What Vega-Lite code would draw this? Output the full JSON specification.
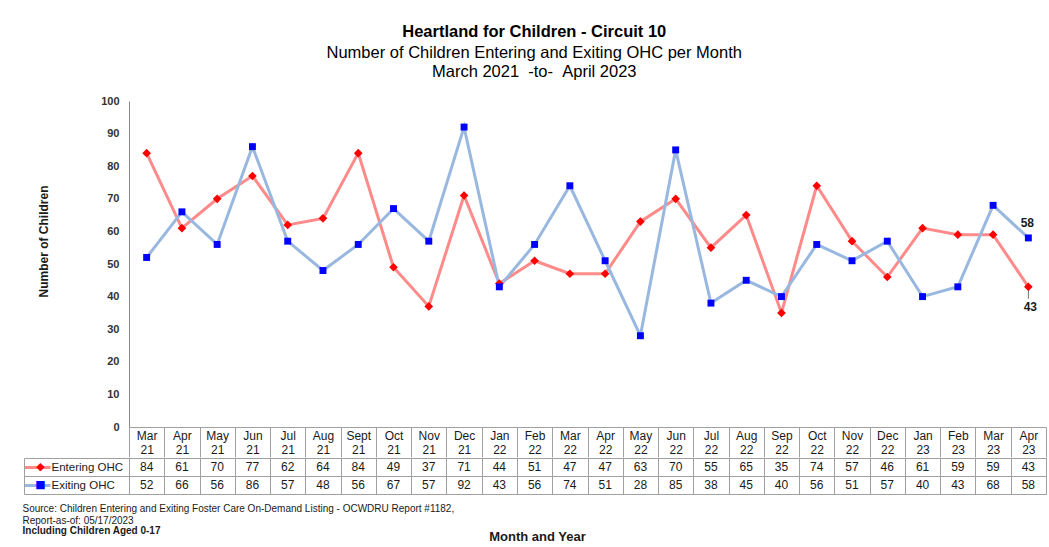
{
  "$schema": "https://vega.github.io/schema/vega-lite/v6.json",
  "background": "white",
  "padding": {"left": 22, "top": 24, "right": 2, "bottom": 2},
  "config": {"font": "Liberation Sans", "view": {"stroke": null}},
  "title": {
    "text": "Heartland for Children - Circuit 10",
    "subtitle": ["Number of Children Entering and Exiting OHC per Month", "March 2021 \u00a0-to- \u00a0April 2023"],
    "anchor": "middle",
    "frame": "bounds",
    "fontSize": 16.5,
    "fontWeight": "bold",
    "color": "#000000",
    "subtitleFontSize": 16.5,
    "subtitleColor": "#000000",
    "subtitleLineHeight": 19.5,
    "subtitlePadding": 4,
    "offset": 14.5
  },
  "datasets": {
    "ohc": [
      {"month": "Mar 21", "series": "Entering OHC", "value": 84},
      {"month": "Apr 21", "series": "Entering OHC", "value": 61},
      {"month": "May 21", "series": "Entering OHC", "value": 70},
      {"month": "Jun 21", "series": "Entering OHC", "value": 77},
      {"month": "Jul 21", "series": "Entering OHC", "value": 62},
      {"month": "Aug 21", "series": "Entering OHC", "value": 64},
      {"month": "Sept 21", "series": "Entering OHC", "value": 84},
      {"month": "Oct 21", "series": "Entering OHC", "value": 49},
      {"month": "Nov 21", "series": "Entering OHC", "value": 37},
      {"month": "Dec 21", "series": "Entering OHC", "value": 71},
      {"month": "Jan 22", "series": "Entering OHC", "value": 44},
      {"month": "Feb 22", "series": "Entering OHC", "value": 51},
      {"month": "Mar 22", "series": "Entering OHC", "value": 47},
      {"month": "Apr 22", "series": "Entering OHC", "value": 47},
      {"month": "May 22", "series": "Entering OHC", "value": 63},
      {"month": "Jun 22", "series": "Entering OHC", "value": 70},
      {"month": "Jul 22", "series": "Entering OHC", "value": 55},
      {"month": "Aug 22", "series": "Entering OHC", "value": 65},
      {"month": "Sep 22", "series": "Entering OHC", "value": 35},
      {"month": "Oct 22", "series": "Entering OHC", "value": 74},
      {"month": "Nov 22", "series": "Entering OHC", "value": 57},
      {"month": "Dec 22", "series": "Entering OHC", "value": 46},
      {"month": "Jan 23", "series": "Entering OHC", "value": 61},
      {"month": "Feb 23", "series": "Entering OHC", "value": 59},
      {"month": "Mar 23", "series": "Entering OHC", "value": 59},
      {"month": "Apr 23", "series": "Entering OHC", "value": 43},
      {"month": "Mar 21", "series": "Exiting OHC", "value": 52},
      {"month": "Apr 21", "series": "Exiting OHC", "value": 66},
      {"month": "May 21", "series": "Exiting OHC", "value": 56},
      {"month": "Jun 21", "series": "Exiting OHC", "value": 86},
      {"month": "Jul 21", "series": "Exiting OHC", "value": 57},
      {"month": "Aug 21", "series": "Exiting OHC", "value": 48},
      {"month": "Sept 21", "series": "Exiting OHC", "value": 56},
      {"month": "Oct 21", "series": "Exiting OHC", "value": 67},
      {"month": "Nov 21", "series": "Exiting OHC", "value": 57},
      {"month": "Dec 21", "series": "Exiting OHC", "value": 92},
      {"month": "Jan 22", "series": "Exiting OHC", "value": 43},
      {"month": "Feb 22", "series": "Exiting OHC", "value": 56},
      {"month": "Mar 22", "series": "Exiting OHC", "value": 74},
      {"month": "Apr 22", "series": "Exiting OHC", "value": 51},
      {"month": "May 22", "series": "Exiting OHC", "value": 28},
      {"month": "Jun 22", "series": "Exiting OHC", "value": 85},
      {"month": "Jul 22", "series": "Exiting OHC", "value": 38},
      {"month": "Aug 22", "series": "Exiting OHC", "value": 45},
      {"month": "Sep 22", "series": "Exiting OHC", "value": 40},
      {"month": "Oct 22", "series": "Exiting OHC", "value": 56},
      {"month": "Nov 22", "series": "Exiting OHC", "value": 51},
      {"month": "Dec 22", "series": "Exiting OHC", "value": 57},
      {"month": "Jan 23", "series": "Exiting OHC", "value": 40},
      {"month": "Feb 23", "series": "Exiting OHC", "value": 43},
      {"month": "Mar 23", "series": "Exiting OHC", "value": 68},
      {"month": "Apr 23", "series": "Exiting OHC", "value": 58}
    ]
  },
  "spacing": -7,
  "vconcat": [
    {
      "width": 917,
      "height": 326,
      "data": {"name": "ohc"},
      "encoding": {
        "x": {
          "field": "month", "type": "nominal", "bandPosition": 0.5,
          "sort": ["Mar 21","Apr 21","May 21","Jun 21","Jul 21","Aug 21","Sept 21","Oct 21","Nov 21","Dec 21","Jan 22","Feb 22","Mar 22","Apr 22","May 22","Jun 22","Jul 22","Aug 22","Sep 22","Oct 22","Nov 22","Dec 22","Jan 23","Feb 23","Mar 23","Apr 23"],
          "scale": {"type": "band", "paddingInner": 0, "paddingOuter": 0},
          "axis": {
            "title": null, "orient": "bottom", "labelAngle": 0,
            "labelExpr": "split(datum.label, ' ')",
            "labelFontSize": 12, "labelColor": "#1a1a1a", "labelLineHeight": 14,
            "labelBaseline": "top", "labelPadding": -27,
            "tickBand": "extent", "tickSize": 30, "tickColor": "#a0a0a0",
            "domainColor": "#a0a0a0", "labelOverlap": false, "labelBound": false
          }
        },
        "y": {
          "field": "value", "type": "quantitative",
          "scale": {"domain": [0, 100]},
          "axis": {
            "title": "Number of Children", "values": [0,10,20,30,40,50,60,70,80,90,100],
            "ticks": false, "grid": false, "labelFontWeight": "bold", "labelFontSize": 11,
            "labelColor": "#333333", "labelPadding": 10, "domainColor": "#888888",
            "titleFontSize": 12, "titleFontWeight": "bold", "titlePadding": 50,
            "titleColor": "#1a1a1a", "titleY": 140
          }
        }
      },
      "layer": [
        {
          "mark": {"type": "line", "strokeWidth": 3},
          "encoding": {
            "stroke": {"field": "series", "type": "nominal", "scale": {"domain": ["Entering OHC", "Exiting OHC"], "range": ["#ff8a8a", "#99b8e0"]}, "legend": null}
          }
        },
        {
          "mark": {"type": "point", "filled": true, "opacity": 1},
          "encoding": {
            "fill": {"field": "series", "type": "nominal", "scale": {"domain": ["Entering OHC", "Exiting OHC"], "range": ["#ff0000", "#0000ff"]}, "legend": null},
            "shape": {"field": "series", "type": "nominal", "scale": {"domain": ["Entering OHC", "Exiting OHC"], "range": ["diamond", "square"]}, "legend": null},
            "size": {"field": "series", "type": "nominal", "scale": {"domain": ["Entering OHC", "Exiting OHC"], "range": [75, 48]}, "legend": null}
          }
        },
        {
          "transform": [{"filter": "datum.month == 'Apr 23' && datum.series == 'Exiting OHC'"}],
          "mark": {"type": "text", "dy": -15, "dx": -1, "fontWeight": "bold", "fontSize": 12, "color": "#1a1a1a"},
          "encoding": {"text": {"field": "value", "type": "quantitative"}}
        },
        {
          "transform": [{"filter": "datum.month == 'Apr 23' && datum.series == 'Entering OHC'"}],
          "mark": {"type": "text", "dy": 20, "dx": 2, "fontWeight": "bold", "fontSize": 12, "color": "#1a1a1a"},
          "encoding": {"text": {"field": "value", "type": "quantitative"}}
        },
        {
          "transform": [{"filter": "datum.month == 'Apr 23' && datum.series == 'Entering OHC'"}],
          "mark": {"type": "tick", "orient": "vertical", "size": 8, "thickness": 1, "color": "#333333", "yOffset": 8},
          "encoding": {}
        }
      ]
    },
    {
      "width": 917,
      "height": 36,
      "view": {"stroke": "#a0a0a0"},
      "data": {"name": "ohc"},
      "title": {
        "text": ["Source:  Children Entering and Exiting Foster Care On-Demand Listing - OCWDRU Report #1182,", "Report-as-of:  05/17/2023"],
        "subtitle": "Including  Children  Aged 0-17",
        "orient": "bottom", "anchor": "start", "frame": "bounds",
        "fontSize": 10, "fontWeight": "normal", "color": "#1a1a1a", "lineHeight": 12,
        "subtitleFontSize": 10, "subtitleFontWeight": "bold", "subtitleColor": "#1a1a1a",
        "subtitleLineHeight": 12, "subtitlePadding": 0, "offset": -39
      },
      "layer": [
        {
          "mark": {"type": "text", "fontSize": 12, "color": "#1a1a1a", "baseline": "middle"},
          "encoding": {
            "x": {
              "field": "month", "type": "nominal", "bandPosition": 0.5,
              "sort": ["Mar 21","Apr 21","May 21","Jun 21","Jul 21","Aug 21","Sept 21","Oct 21","Nov 21","Dec 21","Jan 22","Feb 22","Mar 22","Apr 22","May 22","Jun 22","Jul 22","Aug 22","Sep 22","Oct 22","Nov 22","Dec 22","Jan 23","Feb 23","Mar 23","Apr 23"],
              "scale": {"type": "band", "paddingInner": 0, "paddingOuter": 0},
              "axis": {
                "orient": "bottom", "labels": false, "ticks": false, "domain": false,
                "grid": true, "tickBand": "extent", "gridColor": "#a0a0a0",
                "title": "Month and Year", "titleFontSize": 13, "titleFontWeight": "bold",
                "titlePadding": 36, "titleX": 408, "titleColor": "#1a1a1a"
              }
            },
            "y": {
              "field": "series", "type": "nominal", "bandPosition": 0.5,
              "sort": ["Entering OHC", "Exiting OHC"],
              "scale": {"type": "band", "paddingInner": 0, "paddingOuter": 0},
              "axis": {
                "title": null, "orient": "left", "domain": false, "grid": true,
                "gridColor": "#a0a0a0", "tickBand": "extent", "tickSize": 105,
                "tickColor": "#a0a0a0", "labelFontSize": 11.5, "labelColor": "#1a1a1a",
                "labelAlign": "left", "labelPadding": -27
              }
            },
            "text": {"field": "value", "type": "quantitative"}
          }
        },
        {
          "mark": {"type": "point", "opacity": 0},
          "encoding": {
            "y": {
              "field": "series", "type": "nominal", "bandPosition": 0.5,
              "sort": ["Entering OHC", "Exiting OHC"],
              "axis": {
                "title": null, "orient": "left", "offset": 105, "domainColor": "#a0a0a0",
                "grid": false, "tickSize": -26, "tickWidth": 3,
                "tickColor": {"condition": {"test": "datum.value === 'Entering OHC'", "value": "#ff8a8a"}, "value": "#99b8e0"},
                "labelExpr": "datum.value === 'Entering OHC' ? '◆' : '■'",
                "labelFont": "DejaVu Sans", "labelFontSize": 11, "labelAlign": "center",
                "labelBaseline": "middle", "labelPadding": 10,
                "labelColor": {"condition": {"test": "datum.value === 'Entering OHC'", "value": "#ff0000"}, "value": "#0000ff"}
              }
            }
          }
        }
      ],
      "resolve": {"axis": {"y": "independent"}}
    }
  ]
}
